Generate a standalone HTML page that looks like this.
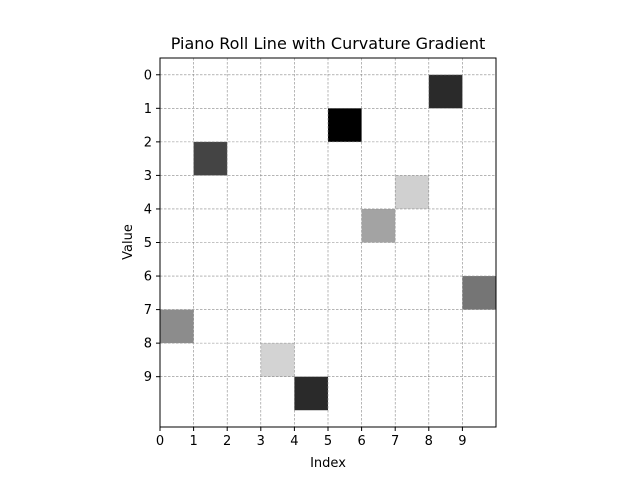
<!DOCTYPE html>
<html><head><meta charset="utf-8"><style>
body{margin:0;background:#fff;font-family:"Liberation Sans","DejaVu Sans",sans-serif}
svg text{font-family:"DejaVu Sans","Liberation Sans",sans-serif}
</style></head><body>
<svg id="c" width="640" height="480">
<rect width="640" height="480" fill="#fff"/>
<text x="328" y="49" font-size="16" text-anchor="middle">Piano Roll Line with Curvature Gradient</text>
<g id="cells"></g><g id="grid"></g><g id="ticks"></g>
<rect x="160" y="58" width="336" height="369" fill="none" stroke="#000" stroke-width="1"/>
<text x="328" y="467" font-size="13" text-anchor="middle">Index</text>
<text x="132" y="242" font-size="13" text-anchor="middle" transform="rotate(-90 132 242)">Value</text>
</svg>
<script>
const indices=[0,1,2,3,4,5,6,7,8,9];
const values=[7,2,null,8,9,1,4,3,0,6];
const shades=[140,68,255,211,42,0,163,208,42,117];
const xTicks=[0,1,2,3,4,5,6,7,8,9];
const yTicks=[0,1,2,3,4,5,6,7,8,9];
const X0=160,X1=496,Y0=58,Y1=427;
const sx=v=>X0+(v-0)*(X1-X0)/10;
const sy=v=>Y0+(v+0.5)*(Y1-Y0)/11;
const NS="http://www.w3.org/2000/svg";
const cells=document.getElementById('cells'),grid=document.getElementById('grid'),ticks=document.getElementById('ticks');
indices.forEach((i,k)=>{
 if(values[k]===null)return;
 const r=document.createElementNS(NS,'rect');
 r.setAttribute('x',sx(i));r.setAttribute('y',sy(values[k]));
 r.setAttribute('width',sx(i+1)-sx(i));r.setAttribute('height',sy(values[k]+1)-sy(values[k]));
 const s=shades[k];r.setAttribute('fill',`rgb(${s},${s},${s})`);
 
 
 cells.appendChild(r);
});
xTicks.forEach(t=>{
 const x=sx(t);
 const l=document.createElementNS(NS,'line');
 l.setAttribute('x1',x);l.setAttribute('x2',x);l.setAttribute('y1',Y0);l.setAttribute('y2',Y1);
 l.setAttribute('stroke','#888');l.setAttribute('stroke-width','0.6');l.setAttribute('stroke-dasharray','2.5,1.5');
 
 
 grid.appendChild(l);
 const tk=document.createElementNS(NS,'line');
 tk.setAttribute('x1',x);tk.setAttribute('x2',x);tk.setAttribute('y1',Y1);tk.setAttribute('y2',Y1+4);tk.setAttribute('stroke','#000');
 ticks.appendChild(tk);
 const tx=document.createElementNS(NS,'text');
 tx.setAttribute('x',x);tx.setAttribute('y',Y1+18);tx.setAttribute('font-size','13');tx.setAttribute('text-anchor','middle');
 tx.textContent=t;
 
 
 ticks.appendChild(tx);
});
yTicks.forEach(t=>{
 const y=sy(t);
 const l=document.createElementNS(NS,'line');
 l.setAttribute('x1',X0);l.setAttribute('x2',X1);l.setAttribute('y1',y);l.setAttribute('y2',y);
 l.setAttribute('stroke','#888');l.setAttribute('stroke-width','0.6');l.setAttribute('stroke-dasharray','2.5,1.5');
 
 
 grid.appendChild(l);
 const tk=document.createElementNS(NS,'line');
 tk.setAttribute('x1',X0-4);tk.setAttribute('x2',X0);tk.setAttribute('y1',y);tk.setAttribute('y2',y);tk.setAttribute('stroke','#000');
 ticks.appendChild(tk);
 const tx=document.createElementNS(NS,'text');
 tx.setAttribute('x',X0-8);tx.setAttribute('y',y+4.5);tx.setAttribute('font-size','13');tx.setAttribute('text-anchor','end');
 tx.textContent=t;
 
 
 ticks.appendChild(tx);
});
</script>
</body></html>
